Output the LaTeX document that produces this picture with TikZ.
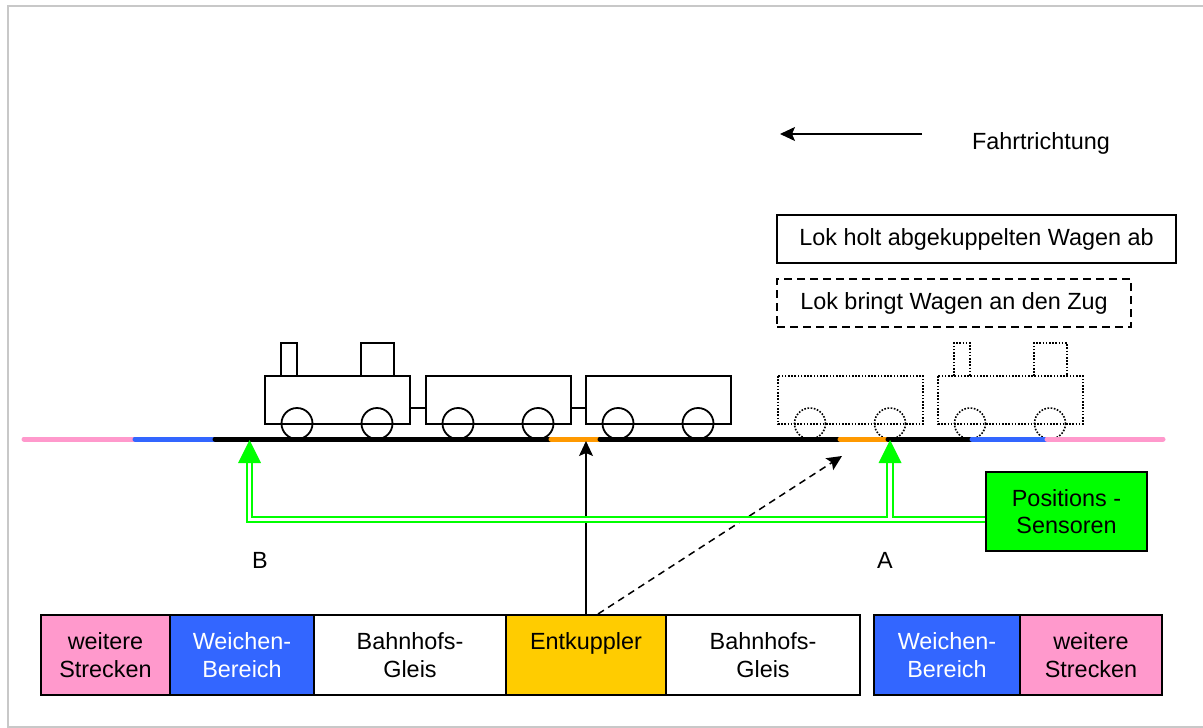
\documentclass[tikz,border=0pt]{standalone}
\usepackage{fontspec}
\setmainfont{Liberation Sans}
\usetikzlibrary{arrows.meta,calc}
\definecolor{segpink}{HTML}{FF99CC}
\definecolor{segblue}{HTML}{3366FF}
\definecolor{segorange}{HTML}{FF9900}
\definecolor{segyellow}{HTML}{FFCC00}
\definecolor{sensgreen}{HTML}{00FF00}
\definecolor{framegray}{HTML}{C8C8C8}
\begin{document}
\begin{tikzpicture}[x=1pt,y=-1pt,
  font=\fontsize{23.4}{27.5}\selectfont,
  segbox/.style={draw=black, line width=2pt, minimum height=80pt, inner sep=0pt, align=center},
  notebox/.style={draw=black, line width=1.5pt, minimum height=48pt, inner sep=0pt},
  trackline/.style={line width=5pt, line cap=round},
  car/.style={line width=1.8pt},
  ghostcar/.style={line width=1.6pt, dash pattern=on 1.6pt off 1.6pt},
  blackarrow/.style={line width=1.5pt, -{Stealth[length=15pt,width=14pt,inset=3pt]}},
  sensorline/.style={draw=sensgreen, double=white, line width=2pt, double distance=3.4pt, line join=miter},
  pics/wagon/.style={code={
    \draw (0,0) rectangle (145,48);
    \draw (32,47.5) circle[radius=15.5];
    \draw (112,47.5) circle[radius=15.5];
  }},
  pics/loco/.style={code={
    \pic {wagon};
    \draw (16,0) -- (16,-33) -- (32,-33) -- (32,0);
    \draw (96,0) -- (96,-33) -- (129,-33) -- (129,0);
  }}
]
\useasboundingbox (0,0) rectangle (1203,728);

% frame
\draw[framegray, line width=2pt] (1203,727) -- (8,727) -- (8,6) -- (1203,6);

% direction of travel
\coordinate (dirS) at (922,134);
\coordinate (dirE) at (780,134);
\draw[blackarrow] (dirS) -- (dirE);
\node (dirlbl) at (1041,143) {Fahrtrichtung};

% legend boxes
\node[notebox, minimum width=399pt] (legA) at (976.5,239) {Lok holt abgekuppelten Wagen ab};
\node[notebox, minimum width=354pt, dash pattern=on 8pt off 5pt] (legB) at (954,303) {Lok bringt Wagen an den Zug};

% train standing at the station
\begin{scope}[car]
  \pic at (265,376) {loco};
  \pic at (426,376) {wagon};
  \pic at (586,376) {wagon};
  \draw (410,408) -- (426,408);
  \draw (570,408) -- (586,408);
\end{scope}

% shunting engine with uncoupled wagon
\begin{scope}[ghostcar]
  \pic at (778,376) {wagon};
  \pic at (938,376) {loco};
\end{scope}

% track sections
\foreach \a/\b/\c in {24/135/segpink, 135/215/segblue, 215/551/black, 551/600/segorange,
                      600/840/black, 840/888/segorange, 888/972/black, 972/1047/segblue,
                      1047/1163/segpink}
  \draw[trackline, draw=\c] (\a,439) -- (\b,439);

% track plan below
\node[segbox, fill=segpink, minimum width=129pt] (w1) at (105.5,655) {weitere\\Strecken};
\node[segbox, fill=segblue, text=white, minimum width=144pt] (b1) at (242,655) {Weichen-\\Bereich};
\node[segbox, fill=white, minimum width=192pt] (g1) at (410,655) {Bahnhofs-\\Gleis};
\node[segbox, fill=segyellow, minimum width=160pt] (ent) at (586,655) {Entkuppler\\~};
\node[segbox, fill=white, minimum width=194pt] (g2) at (763,655) {Bahnhofs-\\Gleis};
\node[segbox, fill=segblue, text=white, minimum width=146pt] (b2) at (947,655) {Weichen-\\Bereich};
\node[segbox, fill=segpink, minimum width=142pt] (w2) at (1091,655) {weitere\\Strecken};

% uncoupler actions
\coordinate (uncA) at (586,441);
\coordinate (uncB) at (842,456);
\draw[blackarrow] (ent.north) -- (uncA);
\draw[blackarrow, dashed, dash pattern=on 7pt off 5pt] ([xshift=12pt]ent.north) -- (uncB);

% position sensors
\node[draw=black, line width=2pt, fill=sensgreen, minimum width=161pt, minimum height=79pt,
      inner sep=0pt, align=center] (pos) at (1066.5,511.5) {Positions -\\Sensoren};
\coordinate (senB) at (249.5,463);
\coordinate (senA) at (890,463);
\coordinate (tipB) at (249.5,440);
\coordinate (tipA) at (890,440);
\draw[sensorline] (pos.west |- 0,519.5) -- (senB |- 0,519.5) -- (senB);
\draw[sensorline] (890,517.5) -- (senA);
\fill[sensgreen] ([xshift=-11.5pt]senB) -- (tipB) -- ([xshift=11.5pt]senB) -- cycle;
\fill[sensgreen] ([xshift=-11.5pt]senA) -- (tipA) -- ([xshift=11.5pt]senA) -- cycle;

\node (lblB) at (260,560) {B};
\node (lblA) at (885,560) {A};
\end{tikzpicture}
\end{document}
